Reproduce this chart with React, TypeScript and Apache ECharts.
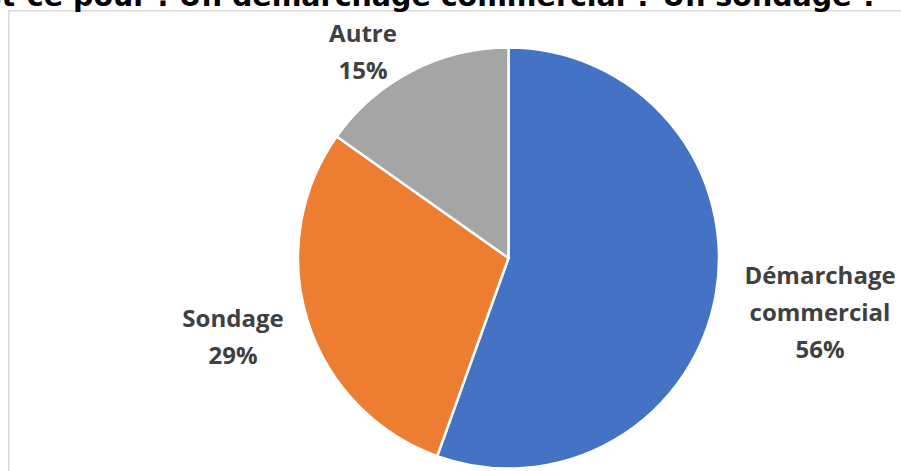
import React, { useEffect, useRef } from "react";
import * as echarts from "echarts";

const titleText = "Est-ce pour : Un démarchage commercial ? Un sondage ?";
const categories = ["Démarchage commercial", "Sondage", "Autre"];
const values = [55.5, 29.3, 15.2];
const colors = ["#4472C4", "#ED7D31", "#A5A5A5"];
const labelPositions = [
  [820, 311],
  [233, 336],
  [363, 51],
];

export default function App() {
  const ref = useRef<HTMLDivElement>(null);
  useEffect(() => {
    if (!ref.current) return;
    const chart = echarts.init(ref.current, null, { renderer: "svg" });
    chart.setOption({
      animation: false,
      backgroundColor: "#ffffff",
      graphic: [
        {
          type: "rect",
          shape: { x: 8.75, y: 10.75, width: 1000, height: 1000 },
          style: { fill: "none", stroke: "#d9d9d9", lineWidth: 1.5 },
          silent: true,
        },
        {
          type: "text",
          x: 878,
          y: -4,
          style: {
            text: titleText,
            fill: "#000000",
            font: 'bold 28.5px "DejaVu Sans"',
            textAlign: "right",
            textVerticalAlign: "middle",
          },
          silent: true,
        },
      ],
      series: [
        {
          type: "pie",
          center: [508.5, 258],
          radius: 210.5,
          startAngle: 90,
          clockwise: true,
          data: categories.map((c, i) => ({
            name: c,
            value: values[i],
            itemStyle: { color: colors[i] },
          })),
          itemStyle: { borderColor: "#ffffff", borderWidth: 2.5 },
          label: {
            show: true,
            position: "inside",
            formatter: (p: any) =>
              `${p.name.split(" ").join("\n")}\n${Math.round(p.percent)}%`,
            fontFamily: '"Open Sans"',
            fontWeight: "bold",
            fontSize: 24,
            lineHeight: 37,
            color: "#404040",
            align: "center",
            overflow: "none",
          },
          labelLine: { show: false },
          labelLayout: (params: any) => {
            const pos = labelPositions[params.dataIndex];
            return { x: pos[0], y: pos[1], align: "center", verticalAlign: "middle" };
          },
          emphasis: { disabled: true },
        },
      ],
    });
    return () => chart.dispose();
  }, []);
  return (
    <div
      ref={ref}
      style={{ position: "fixed", left: 0, top: 0, width: 901, height: 471 }}
    />
  );
}
